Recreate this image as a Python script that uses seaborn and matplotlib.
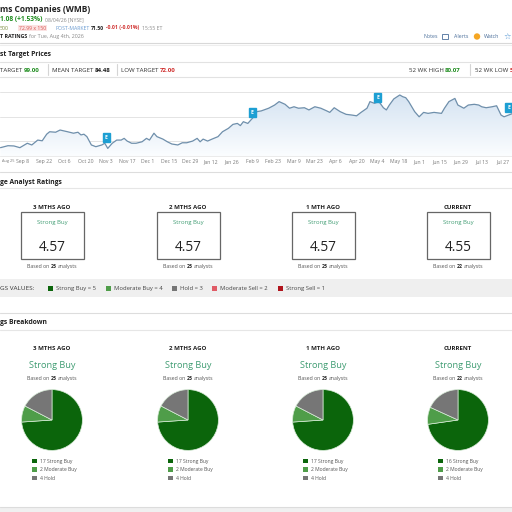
import numpy as np
import pandas as pd
import seaborn as sns
import matplotlib.pyplot as plt
import matplotlib.dates as mdates
from matplotlib.patches import Rectangle, Circle
from matplotlib.colors import LinearSegmentedColormap

# price history
price_dates = [
    "2025-08-24", "2025-08-29", "2025-09-02", "2025-09-06", "2025-09-11", "2025-09-14",
    "2025-09-18", "2025-09-21", "2025-09-24", "2025-09-26", "2025-09-30", "2025-10-03",
    "2025-10-08", "2025-10-12", "2025-10-15", "2025-10-17", "2025-10-19", "2025-10-21",
    "2025-10-24", "2025-10-27", "2025-10-31", "2025-11-02", "2025-11-04", "2025-11-07",
    "2025-11-10", "2025-11-13", "2025-11-15", "2025-11-17", "2025-11-20", "2025-11-23",
    "2025-11-27", "2025-11-30", "2025-12-02", "2025-12-05", "2025-12-07", "2025-12-11",
    "2025-12-14", "2025-12-17", "2025-12-21", "2025-12-24", "2025-12-27", "2025-12-31",
    "2026-01-03", "2026-01-05", "2026-01-07", "2026-01-10", "2026-01-13", "2026-01-17",
    "2026-01-20", "2026-01-24", "2026-01-27", "2026-01-30", "2026-02-01", "2026-02-03",
    "2026-02-06", "2026-02-10", "2026-02-12", "2026-02-15", "2026-02-20", "2026-02-24",
    "2026-02-27", "2026-03-03", "2026-03-06", "2026-03-09", "2026-03-12", "2026-03-16",
    "2026-03-19", "2026-03-23", "2026-03-27", "2026-03-31", "2026-04-02", "2026-04-05",
    "2026-04-09", "2026-04-13", "2026-04-17", "2026-04-20", "2026-04-23", "2026-04-27",
    "2026-04-29", "2026-05-02", "2026-05-05", "2026-05-08", "2026-05-10", "2026-05-12",
    "2026-05-15", "2026-05-19", "2026-05-21", "2026-05-23", "2026-05-25", "2026-05-29",
    "2026-06-01", "2026-06-04", "2026-06-07", "2026-06-11", "2026-06-16", "2026-06-18",
    "2026-06-21", "2026-06-25", "2026-06-27", "2026-07-01", "2026-07-04", "2026-07-08",
    "2026-07-11", "2026-07-13", "2026-07-16", "2026-07-20", "2026-07-23", "2026-07-26",
    "2026-07-28", "2026-07-31", "2026-08-03", "2026-08-04",
]
price_values = [
    57.3, 58.1, 58.0, 57.3, 59.1, 58.4,
    60.4, 60.1, 62.8, 63.8, 63.6, 64.5,
    63.8, 63.2, 63.6, 62.5, 62.8, 61.8,
    58.4, 57.7, 58.4, 59.1, 57.0, 59.1,
    60.4, 60.4, 61.1, 60.0, 59.1, 59.1,
    59.7, 61.1, 60.4, 63.2, 61.8, 60.8,
    59.7, 58.8, 58.4, 59.3, 59.3, 60.0,
    61.1, 59.7, 60.8, 60.0, 60.8, 61.8,
    63.8, 65.2, 66.8, 67.2, 66.3, 67.9,
    67.2, 69.9, 72.0, 72.3, 73.4, 74.7,
    76.1, 75.0, 73.4, 74.0, 73.4, 73.6,
    72.7, 74.0, 73.4, 72.3, 71.7, 73.6,
    72.0, 70.9, 70.6, 70.3, 71.7, 73.4,
    76.1, 75.4, 76.1, 73.6, 72.7, 74.7,
    77.2, 78.8, 78.1, 77.7, 76.1, 72.0,
    69.9, 71.7, 71.3, 71.7, 71.3, 73.4,
    76.1, 77.4, 74.7, 73.4, 74.7, 75.0,
    74.7, 74.0, 73.6, 74.0, 74.4, 70.6,
    69.9, 70.6, 71.3, 71.1,
]

earn_dates = ["2025-11-03", "2026-02-09", "2026-05-04", "2026-07-31"]
earn_values = [61.6, 71.8, 77.9, 73.5]

periods = ["3 MTHS AGO", "2 MTHS AGO", "1 MTH AGO", "CURRENT"]
avg_rating = [4.57, 4.57, 4.57, 4.55]
n_analysts = [23, 23, 23, 22]
strong_buy = [17, 17, 17, 16]
moderate_buy = [2, 2, 2, 2]
hold = [4, 4, 4, 4]

rating_names = ["Strong Buy", "Moderate Buy", "Hold", "Moderate Sell", "Strong Sell"]
rating_scores = [5, 4, 3, 2, 1]
rating_colors = ["#0b650b", "#4f9d49", "#767676", "#e05b66", "#b0141c"]

W = H = 512
TEAL = "#3f9c72"

sns.set_style("white")
plt.rcParams['font.family'] = ['Open Sans', 'DejaVu Sans']

fig = plt.figure(figsize=(5.12, 5.12), dpi=100)
renderer = fig.canvas.get_renderer()


def put(x, y, s, size=4, color="#333333", weight="normal", ha="left", **kw):
    return fig.text(x / W, 1 - y / H, s, fontsize=size, color=color,
                    fontweight=weight, ha=ha, va="center_baseline", **kw)


def run(x, y, parts, center=False, gap=1.3):
    # draw text pieces one after the other on a line
    arts = []
    cx = x
    for s, kw in parts:
        t = put(cx, y, s, **kw)
        arts.append(t)
        cx += t.get_window_extent(renderer).width + gap
    if center:
        shift = (cx - gap - x) / 2
        for t in arts:
            px, py = t.get_position()
            t.set_position((px - shift / W, py))
    return cx


def hline(y, x0=0, x1=W, color="#dddddd", lw=0.8):
    fig.add_artist(plt.Line2D([x0 / W, x1 / W], [1 - y / H, 1 - y / H], color=color, lw=lw))


def vline(x, y0, y1, color="#d5d5d5", lw=0.8):
    fig.add_artist(plt.Line2D([x / W, x / W], [1 - y0 / H, 1 - y1 / H], color=color, lw=lw))


def box(x0, y0, x1, y1, **kw):
    fig.add_artist(Rectangle((x0 / W, 1 - y1 / H), (x1 - x0) / W, (y1 - y0) / H,
                             transform=fig.transFigure, **kw))


# header
put(0, 9, "ms Companies (WMB)", size=6.0, weight="bold", color="#222222")
run(0, 19, [("1.08 (+1.53%)", dict(size=4.8, weight="bold", color="#1e8c1e")),
            ("08/04/26 [NYSE]", dict(size=3.7, color="#8a8a8a"))], gap=3)
put(0, 27.5, "500", size=3.7, color="#7a8a3a")
put(19, 27.5, "72.99 x 150", size=3.7, color="#d9534f",
    bbox=dict(boxstyle="square,pad=0.15", fc="#fbe3e3", ec="none"))
run(55, 27.5, [("POST-MARKET", dict(size=3.7, color="#6a9bd1")),
               ("71.50", dict(size=3.7, weight="bold", color="#222222")),
               ("-0.01 (-0.01%)", dict(size=3.7, weight="bold", color="#d0302f")),
               ("15:55 ET", dict(size=3.7, color="#8a8a8a"))], gap=2)
run(0, 36, [("T RATINGS", dict(size=3.9, weight="bold", color="#222222")),
            ("for Tue, Aug 4th, 2026", dict(size=3.9, color="#8a8a8a"))], gap=2)

put(424, 36.5, "Notes", size=3.8, color="#4a6e9a")
box(442, 33.5, 447.5, 39, fill=False, ec="#4a6e9a", lw=0.6)
put(454, 36.5, "Alerts", size=3.8, color="#4a6e9a")
fig.add_artist(Circle((477 / W, 1 - 36.5 / H), 3.2 / W, transform=fig.transFigure,
                      fc="#f5a623", ec="none"))
put(484, 36.5, "Watch", size=3.8, color="#4a6e9a")
put(503, 36.5, "\u2606", size=6, color="#4a8fd0", family="DejaVu Sans")

hline(42.5, color="#d8d8d8")
hline(44.5, color="#eeeeee")

# target prices
put(0, 54, "st Target Prices", size=4.9, weight="bold", color="#222222")
hline(61.5, color="#e2e2e2")
hline(77, color="#e2e2e2")
tsize = 4.4
run(0, 69.5, [("TARGET", dict(size=tsize, color="#333333")),
              ("99.00", dict(size=tsize, weight="bold", color="#1e8c1e"))])
vline(48, 64, 75)
run(52, 69.5, [("MEAN TARGET", dict(size=tsize, color="#333333")),
               ("84.48", dict(size=tsize, weight="bold", color="#222222"))])
vline(117, 64, 75)
run(121, 69.5, [("LOW TARGET", dict(size=tsize, color="#333333")),
                ("72.00", dict(size=tsize, weight="bold", color="#d0302f"))])
run(409, 69.5, [("52 WK HIGH", dict(size=tsize, color="#333333")),
                ("80.07", dict(size=tsize, weight="bold", color="#1e8c1e"))])
vline(470, 64, 75)
run(475, 69.5, [("52 WK LOW", dict(size=tsize, color="#333333")),
                ("5", dict(size=tsize, weight="bold", color="#d0302f"))])

# price chart
df = pd.DataFrame({"date": pd.to_datetime(price_dates), "price": price_values})
ymin, ymax = 53.9, 84.1
ax = fig.add_axes([0, 1 - 156 / H, 1, 74 / H])
grad_cmap = LinearSegmentedColormap.from_list("fade", ["#fbfdff", "#d3e2f1"])
poly = ax.fill_between(df["date"], df["price"], ymin, color="none", lw=0)
x0n, x1n = mdates.date2num(df["date"].iloc[0]), mdates.date2num(df["date"].iloc[-1])
im = ax.imshow(np.linspace(0, 1, 200).reshape(-1, 1), extent=[x0n, x1n, ymin, 80],
               aspect="auto", cmap=grad_cmap, origin="lower", zorder=1)
im.set_clip_path(poly.get_paths()[0], transform=ax.transData)
sns.lineplot(data=df, x="date", y="price", ax=ax, color="#6f8fab", linewidth=0.9, zorder=3)

for d, v in zip(pd.to_datetime(earn_dates), earn_values):
    ax.text(d, v, "E", fontsize=3.6, color="white", weight="bold", ha="center", va="center",
            zorder=5, bbox=dict(boxstyle="square,pad=0.4", fc="#1d9fd3", ec="#1d9fd3"))

ax.set_xlim(pd.Timestamp("2025-08-23 16:00"), pd.Timestamp("2026-08-02 08:00"))
ax.set_ylim(ymin, ymax)
ax.set_yticks([60, 70, 80])
ax.set_yticklabels([])
tick_dates = pd.date_range("2025-08-25", "2026-07-27", freq="14D")
ax.set_xticks(tick_dates)
ax.set_xticklabels([f"{d:%b} {d.day}" for d in tick_dates], fontsize=3.7, color="#7a7a7a")
# first label sits at the very edge: anchor it left and keep it small
first = ax.get_xticklabels()[0]
first.set_ha("left")
first.set_fontsize(2.8)
ax.tick_params(length=0, pad=2.5)
ax.yaxis.grid(True, color="#e4e4e4", lw=0.7)
ax.set_xlabel("")
ax.set_ylabel("")
for s in ["top", "left", "right"]:
    ax.spines[s].set_visible(False)
ax.spines["bottom"].set_color("#e8e8e8")
ax.spines["bottom"].set_linewidth(0.6)
ax.patch.set_alpha(0)

# average analyst ratings
cols = [52, 188, 323, 458]
hline(172)
put(0, 181, "ge Analyst Ratings", size=4.9, weight="bold", color="#222222")
hline(187.5, color="#e6e6e6")
for i, cx in enumerate(cols):
    put(cx, 207, periods[i], size=4.4, weight="bold", color="#222222", ha="center")
    box(cx - 31.5, 212, cx + 31.5, 259, fill=False, ec="#666666", lw=0.9)
    put(cx, 222, "Strong Buy", size=4.3, color=TEAL, ha="center")
    put(cx, 245.5, f"{avg_rating[i]:.2f}", size=9.8, color="#222222", ha="center")
    run(cx, 266, [("Based on", dict(size=3.7, color="#555555")),
                  (str(n_analysts[i]), dict(size=3.7, weight="bold", color="#222222")),
                  ("analysts", dict(size=3.7, color="#555555"))], center=True, gap=1.2)

box(0, 279, W, 297, fc="#efefef", ec="none")
put(0, 288, "GS VALUES:", size=4.6, color="#333333")
sq_x = [48, 106, 172, 212, 278]
for name, score, col, sx in zip(rating_names, rating_scores, rating_colors, sq_x):
    box(sx, 285.5, sx + 5, 290.5, fc=col, ec="none")
    put(sx + 8, 288, f"{name} = {score}", size=4.2, color="#444444")

# ratings breakdown
hline(313)
put(0, 321.5, "gs Breakdown", size=4.9, weight="bold", color="#222222")
hline(330, color="#e6e6e6")
pie_r = 31
for i, cx in enumerate(cols):
    put(cx, 348, periods[i], size=4.4, weight="bold", color="#222222", ha="center")
    put(cx, 364.5, "Strong Buy", size=6.6, color=TEAL, ha="center")
    run(cx, 378, [("Based on", dict(size=3.7, color="#555555")),
                  (str(n_analysts[i]), dict(size=3.7, weight="bold", color="#222222")),
                  ("analysts", dict(size=3.7, color="#555555"))], center=True, gap=1.2)
    pax = fig.add_axes([(cx - pie_r) / W, 1 - (420 + pie_r) / H, 2 * pie_r / W, 2 * pie_r / H])
    counts = [strong_buy[i], moderate_buy[i], hold[i]]
    pax.pie(counts, colors=rating_colors[:3], startangle=90, counterclock=False,
            wedgeprops=dict(edgecolor="#d8ecd8", linewidth=0.5))
    pax.set_xlim(-1.02, 1.02)
    pax.set_ylim(-1.02, 1.02)
    labels = [f"{strong_buy[i]} Strong Buy", f"{moderate_buy[i]} Moderate Buy", f"{hold[i]} Hold"]
    for j, lab in enumerate(labels):
        ly = 461 + 8.5 * j
        box(cx - 20, ly - 2.2, cx - 15.5, ly + 2.2, fc=rating_colors[j], ec="none")
        put(cx - 12, ly, lab, size=3.6, color="#555555")

box(0, 507, W, H, fc="#f0f0f0", ec="none")
hline(507, color="#dcdcdc")

fig.savefig("out.png", dpi=100)
